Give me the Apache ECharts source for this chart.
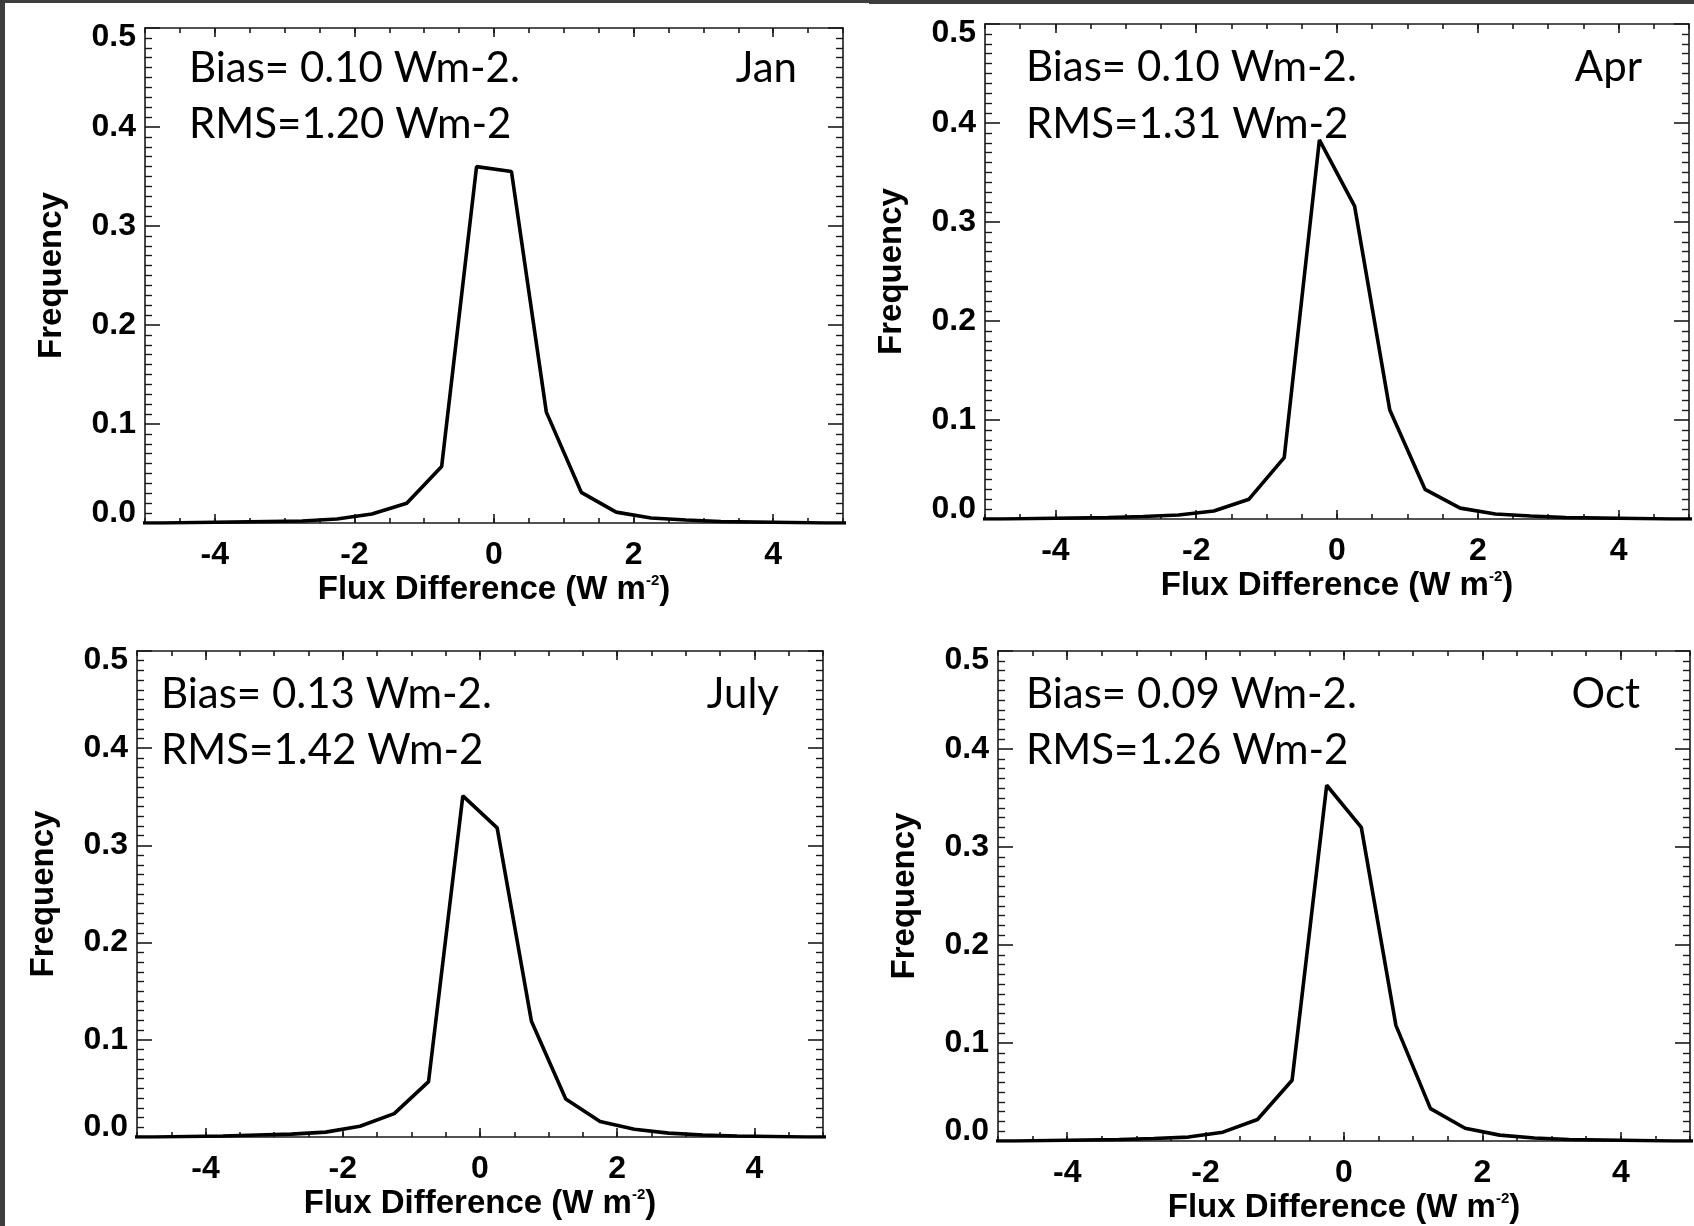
<!DOCTYPE html>
<html>
<head>
<meta charset="utf-8">
<script src="https://cdn.jsdelivr.net/npm/echarts@6/dist/echarts.min.js"></script>
<style>
html,body{margin:0;padding:0;background:#fff;}
#chart{width:1694px;height:1226px;}
</style>
</head>
<body>
<div id="chart"></div>
<script>
// ---------- DATA ----------
const binCenters = [-5.25,-4.75,-4.25,-3.75,-3.25,-2.75,-2.25,-1.75,-1.25,-0.75,-0.25,0.25,0.75,1.25,1.75,2.25,2.75,3.25,3.75,4.25,4.75,5.25];
const freqJan = [0,0,0.0005,0.001,0.0015,0.002,0.004,0.009,0.020,0.057,0.360,0.355,0.112,0.031,0.011,0.005,0.003,0.0015,0.001,0.0005,0,0];
const freqApr = [0,0,0.0005,0.001,0.0015,0.0025,0.004,0.008,0.020,0.062,0.383,0.316,0.110,0.030,0.011,0.005,0.003,0.0015,0.001,0.0005,0,0];
const freqJul = [0,0,0.0005,0.001,0.002,0.003,0.005,0.011,0.024,0.057,0.351,0.318,0.119,0.039,0.016,0.008,0.004,0.002,0.001,0.0005,0,0];
const freqOct = [0,0,0.0005,0.001,0.0015,0.0025,0.004,0.009,0.022,0.062,0.363,0.320,0.118,0.033,0.013,0.006,0.003,0.0015,0.001,0.0005,0,0];
const monthNames = ['Jan','Apr','July','Oct'];
const biasTexts = ['Bias= 0.10 Wm-2.','Bias= 0.10 Wm-2.','Bias= 0.13 Wm-2.','Bias= 0.09 Wm-2.'];
const rmsTexts = ['RMS=1.20 Wm-2','RMS=1.31 Wm-2','RMS=1.42 Wm-2','RMS=1.26 Wm-2'];
const xTickValues = [-4,-2,0,2,4];
const yTickLabels = ['0.0','0.1','0.2','0.3','0.4','0.5'];
const xAxisTitle = 'Flux Difference (W m{sup|-2})';
const yAxisTitle = 'Frequency';

// ---------- LAYOUT ----------
const panels = [
  {left:145, top:28,  width:698, height:495, tx:189,  by:82,  ry:138, mx:797},
  {left:985, top:24,  width:704, height:495, tx:1026, by:81,  ry:138, mx:1642},
  {left:137, top:651, width:686, height:486, tx:161,  by:708, ry:764, mx:779},
  {left:998, top:651, width:692, height:490, tx:1026, by:708, ry:764, mx:1640}
];
const freqs = [freqJan, freqApr, freqJul, freqOct];
const FONT = 'Liberation Sans, Arial, Helvetica, sans-serif';
const AX = '#1a1a1a';

const grids = [], xAxes = [], yAxes = [], series = [], graphics = [];

graphics.push({type:'rect', shape:{x:0,y:0,width:5,height:1226}, style:{fill:'#3d3d3d'}, silent:true});
graphics.push({type:'rect', shape:{x:0,y:0,width:869,height:3}, style:{fill:'#3d3d3d'}, silent:true});
graphics.push({type:'rect', shape:{x:869,y:0,width:825,height:4}, style:{fill:'#3d3d3d'}, silent:true});

panels.forEach((p, i) => {
  grids.push({left:p.left, top:p.top, width:p.width, height:p.height, containLabel:false});
  const baseX = {
    type:'value', gridIndex:i, min:-5, max:5, splitLine:{show:false},
    axisLine:{onZero:false, lineStyle:{color:AX, width:1.6}}
  };
  xAxes.push(Object.assign({}, baseX, {
    position:'bottom', interval:0.5,
    name:xAxisTitle, nameLocation:'middle', nameGap:50,
    nameTextStyle:{fontFamily:FONT, fontWeight:'bold', fontSize:33, color:'#000',
      rich:{sup:{fontFamily:FONT, fontWeight:'bold', fontSize:15, color:'#000', verticalAlign:'top', lineHeight:15, padding:[0,0,14,0]}}},
    axisTick:{show:true, inside:true, length:9, customValues:xTickValues, lineStyle:{color:AX, width:1.6}},
    axisLabel:{show:true, customValues:xTickValues, margin:16, fontFamily:FONT, fontWeight:'bold', fontSize:32, color:'#000',
      formatter:v => String(v)}
  }));
  xAxes.push(Object.assign({}, baseX, {
    position:'bottom', interval:0.5,
    axisLine:{show:false, onZero:false},
    axisTick:{show:true, inside:true, length:5, lineStyle:{color:AX, width:1.6}},
    axisLabel:{show:false}
  }));
  xAxes.push(Object.assign({}, baseX, {
    position:'top', interval:0.5,
    axisTick:{show:true, inside:true, length:9, customValues:xTickValues, lineStyle:{color:AX, width:1.6}},
    axisLabel:{show:false}
  }));
  xAxes.push(Object.assign({}, baseX, {
    position:'top', interval:0.5,
    axisLine:{show:false, onZero:false},
    axisTick:{show:true, inside:true, length:5, lineStyle:{color:AX, width:1.6}},
    axisLabel:{show:false}
  }));
  const baseY = {
    type:'value', gridIndex:i, min:0, max:0.5, interval:0.1, splitLine:{show:false},
    axisLine:{onZero:false, lineStyle:{color:AX, width:1.6}},
    axisTick:{show:true, inside:true, length:15, lineStyle:{color:AX, width:1.6}},
    minorTick:{show:true, splitNumber:10, length:7, lineStyle:{color:AX, width:1.4}}
  };
  const lblStyle = {fontFamily:FONT, fontWeight:'bold', fontSize:32, color:'#000'};
  yAxes.push(Object.assign({}, baseY, {
    position:'left',
    name:yAxisTitle, nameLocation:'middle', nameGap:77,
    nameTextStyle:{fontFamily:FONT, fontWeight:'bold', fontSize:33, color:'#000'},
    axisLabel:Object.assign({show:true, margin:9,
      formatter:v => {
        const idx = Math.round(v*10);
        const s = yTickLabels[idx];
        if (idx === 0) return '{lo|' + s + '}';
        if (idx === 5) return '{hi|' + s + '}';
        return s;
      },
      rich:{
        lo:Object.assign({padding:[0,0,19,0]}, lblStyle),
        hi:Object.assign({padding:[18,0,0,0]}, lblStyle)
      }
    }, lblStyle)
  }));
  yAxes.push(Object.assign({}, baseY, {position:'right', axisLabel:{show:false}}));

  series.push({
    type:'line', xAxisIndex:i*4, yAxisIndex:i*2,
    data:binCenters.map((x, k) => [x, freqs[i][k]]),
    symbol:'none', smooth:false, clip:true,
    lineStyle:{color:'#000', width:3.6}, z:5, animation:false
  });

  const tFont = '42px Lato, "Open Sans", sans-serif';
  graphics.push({type:'text', style:{text:biasTexts[i], x:p.tx, y:p.by-14, font:tFont, fill:'#000', textAlign:'left', textVerticalAlign:'middle'}});
  graphics.push({type:'text', style:{text:rmsTexts[i], x:p.tx, y:p.ry-14, font:tFont, fill:'#000', textAlign:'left', textVerticalAlign:'middle'}});
  graphics.push({type:'text', style:{text:monthNames[i], x:p.mx, y:p.by-14, font:tFont, fill:'#000', textAlign:'right', textVerticalAlign:'middle'}});
});

const chart = echarts.init(document.getElementById('chart'), null, {renderer:'canvas'});
chart.setOption({
  backgroundColor:'#ffffff',
  animation:false,
  grid:grids, xAxis:xAxes, yAxis:yAxes, series:series, graphic:graphics
});
</script>
</body>
</html>
